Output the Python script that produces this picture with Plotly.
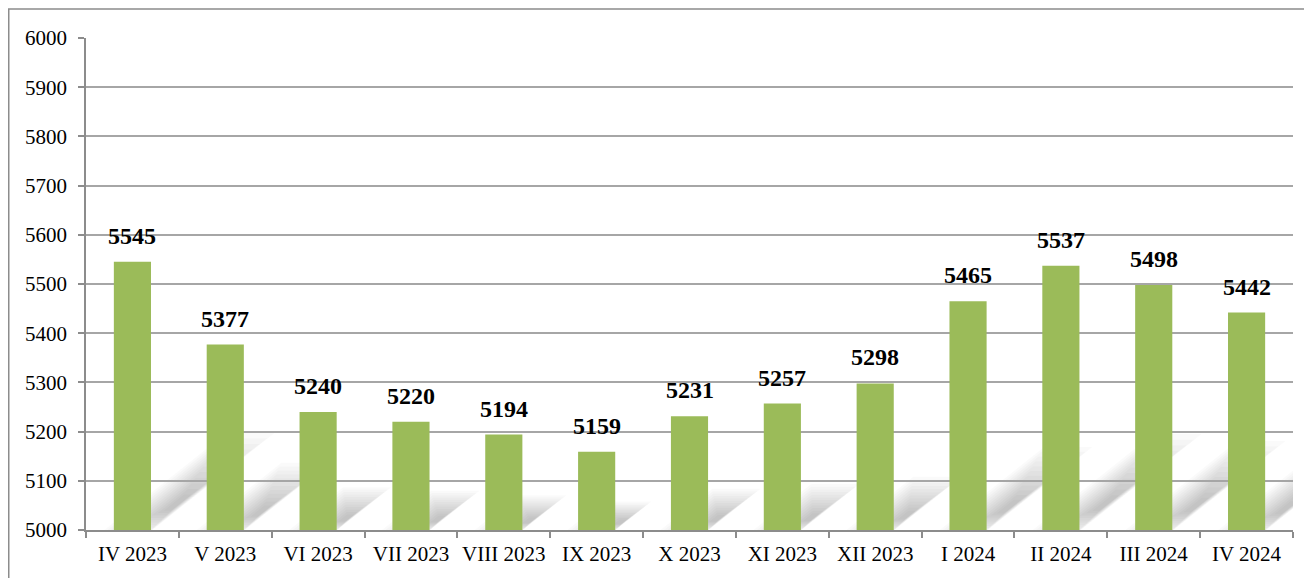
import plotly.graph_objects as go

categories = ["IV 2023", "V 2023", "VI 2023", "VII 2023", "VIII 2023", "IX 2023", "X 2023",
              "XI 2023", "XII 2023", "I 2024", "II 2024", "III 2024", "IV 2024"]
values = [5545, 5377, 5240, 5220, 5194, 5159, 5231, 5257, 5298, 5465, 5537, 5498, 5442]
y_ticks = list(range(5000, 6001, 100))

W, H = 1304, 570
ml, mr, mt, mb = 78, 19, 30, 48
pw, ph = W - ml - mr, H - mt - mb
BASE = 5000
HALF_BAR = 0.2
KX, KY = 0.002, 0.3   # shadow projection per unit of bar height

fig = go.Figure()
fig.add_trace(go.Bar(
    x=categories, y=values, marker_color="#9BBB59", marker_line_width=0,
    hoverinfo="x+y",
))

# value labels above bars
for c, v in zip(categories, values):
    fig.add_annotation(x=c, y=v, text=f"<b>{v}</b>", showarrow=False,
                       yanchor="middle", yshift=26,
                       font=dict(family="Liberation Serif", size=24, color="black"))

# soft perspective shadows cast by each bar (decoration derived from bar heights)
shapes = []
n_layers = 12
for i, v in enumerate(values):
    h = v - BASE
    dx, dy = KX * h, KY * h
    pts = [(i - HALF_BAR, BASE), (i + HALF_BAR, BASE),
           (i + HALF_BAR + dx, BASE + dy), (i - HALF_BAR + dx, BASE + dy)]
    ax, ay = i + HALF_BAR + 0.25 * dx, BASE + 0.3 * dy
    for k in range(n_layers):
        s = 1.3 - k * (1.1 / (n_layers - 1))
        sp = [(ax + (px - ax) * s, ay + (py - ay) * s) for px, py in pts]
        path = "M " + " L ".join(f"{px:.4f},{py:.2f}" for px, py in sp) + " Z"
        shapes.append(dict(type="path", xref="x", yref="y", path=path,
                           fillcolor="rgba(0,0,0,0.02)", line=dict(width=0), layer="below"))

shapes.append(dict(type="rect", xref="paper", yref="paper",
                   x0=(-ml + 0.75) / pw, x1=1.1, y0=-0.2, y1=(ph + mt - 1) / ph,
                   line=dict(color="#8C8C8C", width=1.5), fillcolor="rgba(0,0,0,0)"))

fig.update_layout(
    width=W, height=H, margin=dict(l=ml, r=mr, t=mt, b=mb),
    plot_bgcolor="white", paper_bgcolor="white", bargap=0.6, showlegend=False,
    font=dict(family="Liberation Serif", size=21, color="black"),
    xaxis=dict(showgrid=False, showline=True, linecolor="#8C8C8C", linewidth=1.5,
               ticks="outside", ticklen=6, tickcolor="#8C8C8C", tickwidth=1.5,
               tickson="boundaries", tickfont=dict(size=21), tickangle=0,
               ticklabelstandoff=4, range=[-0.5, len(categories) - 0.5]),
    yaxis=dict(range=[5000, 6000], tickvals=y_ticks, showgrid=True, gridcolor="#A6A6A6",
               gridwidth=1.5, showline=True, linecolor="#8C8C8C", linewidth=1.5,
               ticks="outside", ticklen=6, tickcolor="#8C8C8C", tickwidth=1.5,
               ticklabelstandoff=7, tickfont=dict(size=21), zeroline=False),
    shapes=shapes,
)

fig.write_html("out.html")
